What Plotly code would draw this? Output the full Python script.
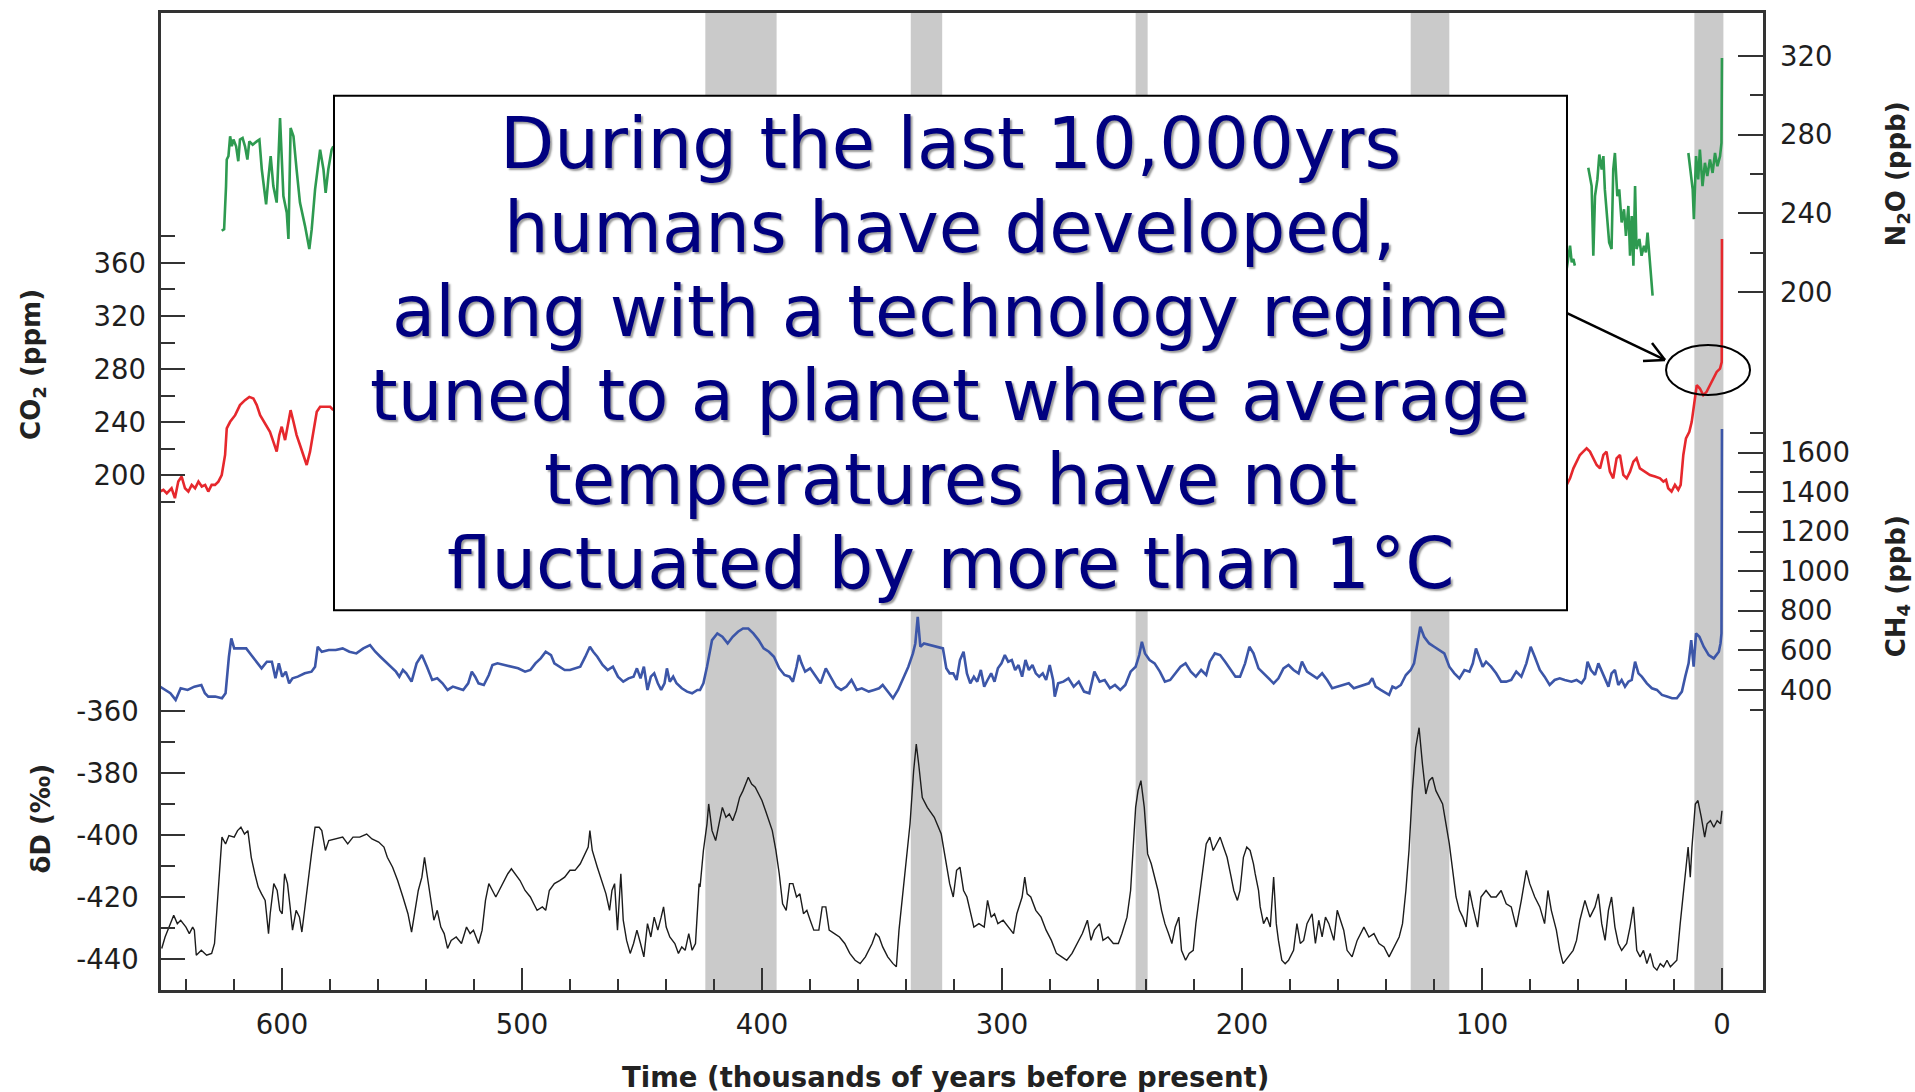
import plotly.graph_objects as go

# ---------------- data ----------------
# deuterium record (per mil) vs time (ka before present)
DD_TIME = [650.1, 648.7, 646.5, 645.1, 643.6, 642.2, 640.0, 638.6, 637.2, 636.5, 635.7, 633.6, 631.4, 629.3, 628.1,
           627.1, 625.7, 625.0, 623.5, 622.1, 619.9, 618.5, 617.1, 615.6, 614.2, 612.8, 611.3, 609.9, 608.5, 607.0,
           605.6, 604.9, 603.4, 602.0, 600.9, 599.9, 598.9, 597.7, 596.6, 595.6, 594.1, 592.7, 591.7, 590.5, 589.1,
           587.7, 586.2, 584.5, 583.4, 581.9, 580.5, 577.6, 574.7, 572.6, 570.4, 567.6, 564.7, 562.5, 559.7, 557.5,
           556.1, 553.9, 551.8, 549.6, 547.5, 546.0, 544.6, 543.2, 541.7, 540.6, 539.6, 538.2, 536.7, 535.3, 533.8,
           532.4, 531.0, 529.5, 527.4, 525.2, 523.1, 521.6, 520.2, 518.1, 516.6, 515.2, 513.8, 512.3, 510.9, 509.5,
           508.0, 505.9, 504.4, 503.0, 500.8, 498.7, 496.5, 495.1, 493.7, 491.5, 490.1, 488.6, 486.5, 484.3, 482.2,
           480.0, 477.9, 475.7, 473.6, 472.4, 471.7, 470.7, 468.6, 466.4, 465.0, 463.5, 462.5, 461.4, 460.2, 458.8,
           457.8, 456.4, 454.9, 453.5, 452.1, 450.6, 449.2, 447.7, 446.3, 444.9, 443.4, 442.0, 441.0, 439.9, 438.4,
           436.3, 434.8, 433.4, 432.0, 430.5, 429.1, 427.7, 426.2,
           425.8, 424.4, 422.9, 422.2, 420.8, 419.3, 417.9, 416.5, 415.0, 413.6, 412.2, 410.7, 409.3, 407.9, 405.7,
           404.3, 402.8, 401.4, 400.0, 398.5, 397.1, 395.7, 394.2, 392.8, 391.4, 389.9, 388.5, 387.1, 385.6, 384.2,
           382.7, 381.3, 379.9, 378.4, 376.3, 374.9, 373.4, 372.0, 369.8, 367.7, 365.5, 363.4, 361.2, 359.1, 356.9,
           355.5, 354.1, 352.6, 351.2, 349.7, 347.6, 345.4, 344.0, 342.9, 341.1, 339.7, 338.3, 336.8, 335.7, 334.7,
           333.2, 331.1, 328.2, 325.3, 323.2, 321.8, 320.3, 318.9, 317.5, 316.0, 314.6, 313.2, 311.7, 309.6, 307.4,
           306.0, 304.5, 303.1, 301.7, 299.5, 297.4, 295.2, 293.8, 291.6, 290.5, 289.5, 288.0, 285.9, 283.7, 281.6,
           279.4, 277.3, 275.1, 273.0, 270.8, 268.7, 266.5, 264.4, 262.9, 261.5, 259.3, 257.9, 255.8, 253.6, 251.5,
           250.0, 247.9, 246.4, 245.3, 244.3, 243.3, 242.1, 240.7, 239.3, 237.8, 236.4, 235.0, 233.5, 232.1, 230.6,
           229.2, 227.8, 226.3, 225.2, 223.5, 222.0, 220.3, 219.2, 217.7, 216.3, 214.9, 213.4, 212.0, 210.6, 209.1,
           207.7, 206.2, 204.8, 203.4, 201.9,
           200.8, 199.4, 198.0, 196.6, 195.2, 194.5, 193.1, 192.4, 191.0, 189.6, 188.2, 186.8, 185.7, 184.8, 183.4,
           182.0, 180.6, 178.5, 177.1, 175.7, 174.3, 172.9, 170.8, 169.4, 168.0, 166.6, 165.2, 163.8, 161.7, 160.3,
           158.9, 157.6, 156.2, 154.1, 152.0, 149.2, 147.1, 145.0, 142.9, 140.8, 138.7, 136.6, 134.5, 133.1, 131.7,
           130.4, 129.0, 127.6, 126.2, 124.8, 123.4, 122.0, 120.6, 119.2, 117.8, 116.4, 115.0, 113.6, 112.2, 110.8,
           109.4, 108.0, 106.6, 105.2, 103.8, 101.8, 100.4, 98.3, 96.2, 94.1, 92.0, 89.9, 87.8, 85.7, 83.6,
           81.5, 80.1, 78.0, 75.9, 73.9, 72.5, 71.1, 69.0, 67.6, 66.2, 64.1, 62.0, 60.6, 59.2, 57.1,
           55.0, 52.9, 51.5, 50.1, 48.7, 47.3, 46.0, 44.6, 43.2, 41.8, 39.7, 38.3, 36.9, 35.5, 34.1,
           32.7, 31.3, 29.9, 28.5, 27.1, 25.7, 24.3, 22.9, 21.5, 20.1, 18.8, 17.4, 16.0, 15.0, 14.1,
           13.2, 12.5, 11.1, 10.0, 8.6, 7.2, 6.2, 4.8, 3.4, 2.0, 0.6, 0.0]
DD_VALUE = [-436.6, -432.9, -428.6, -425.9, -428.6, -427.5, -429.7, -431.8, -429.7, -430.7, -438.8, -437.2, -438.8, -438.2, -435.0,
            -423.2, -407.2, -400.7, -402.9, -400.2, -400.7, -398.6, -397.5, -399.7, -398.6, -407.2, -412.5, -416.8, -419.0, -421.1,
            -431.8, -425.4, -415.7, -417.9, -424.3, -425.4, -412.5, -415.7, -423.2, -430.7, -424.3, -426.5, -431.3, -423.2, -415.7,
            -406.1, -397.5, -397.5, -398.6, -405.0, -401.8, -401.3, -400.7, -402.9, -400.7, -400.7, -399.7, -401.3, -402.3, -403.9,
            -407.2, -410.4, -414.7, -420.0, -425.4, -431.3, -424.3, -417.9, -413.6, -407.2, -412.5, -420.0, -427.5, -424.3, -429.7,
            -431.8, -436.6, -434.0, -432.9, -435.0, -429.7, -431.8, -430.7, -435.0, -430.7, -421.1, -415.7, -417.9, -420.0, -417.9,
            -415.7, -412.5, -410.9, -412.5, -414.7, -417.9, -420.0, -422.2, -424.3, -423.2, -424.3, -417.9, -415.7, -414.7, -413.6,
            -411.4, -411.4, -409.3, -406.1, -403.9, -398.6, -405.0, -410.4, -415.7, -419.0, -424.3, -417.9, -415.7, -430.7, -412.5,
            -427.5, -434.0, -438.2, -435.0, -430.7, -435.0, -439.3, -428.6, -432.9, -426.5, -430.7, -426.5, -423.2, -429.7, -432.9,
            -435.0, -438.2, -436.1, -437.2, -431.8, -437.2, -435.0, -415.7,
            -416.8, -405.0, -396.4, -390.0, -398.6, -401.8, -396.4, -391.1, -394.3, -393.2, -395.4, -392.2, -387.9, -385.7, -381.4,
            -383.6, -384.6, -386.8, -388.9, -392.2, -395.4, -398.6, -405.0, -412.5, -422.2, -424.3, -415.7, -415.7, -420.0, -419.0,
            -425.4, -424.3, -427.5, -430.7, -430.7, -423.2, -423.2, -430.7, -431.8, -432.9, -435.0, -438.2, -440.4, -441.5, -439.3,
            -437.2, -435.0, -431.8, -432.9, -436.1, -439.3, -441.5, -442.5, -430.7, -417.9, -407.2, -396.4, -379.3, -370.7, -377.1,
            -387.9, -391.1, -394.3, -399.7, -409.3, -415.7, -420.0, -411.4, -410.4, -417.9, -420.0, -424.3, -429.7, -428.6, -429.7,
            -421.1, -426.5, -425.4, -428.6, -427.5, -429.7, -431.8, -425.4, -420.0, -413.6, -419.0, -420.0, -424.3, -426.5, -430.7,
            -434.0, -438.2, -439.3, -440.4, -438.2, -435.0, -431.8, -427.5, -434.0, -430.7, -428.6, -434.0, -432.9, -435.0, -435.0,
            -431.8, -426.5, -417.9, -405.0, -391.1, -385.7, -382.5, -391.1, -406.1, -409.3, -413.6, -417.9, -424.3, -428.6, -431.8,
            -435.0, -429.7, -426.5, -437.2, -440.4, -438.2, -437.2, -428.6, -420.0, -411.4, -402.9, -400.7, -405.0, -402.9, -400.7,
            -403.9, -407.2, -412.5, -417.9, -421.1,
            -417.9, -407.2, -403.9, -405.0, -409.3, -412.5, -417.9, -423.2, -428.6, -426.5, -429.7, -413.6, -428.6, -434.0, -440.4,
            -441.5, -440.4, -437.2, -428.6, -435.0, -434.0, -428.6, -425.4, -435.0, -427.5, -432.9, -426.5, -428.6, -434.0, -424.3,
            -427.5, -430.7, -437.2, -439.3, -434.0, -429.7, -432.9, -431.8, -435.0, -436.1, -439.3, -436.1, -432.9, -428.6, -417.9,
            -405.0, -385.7, -371.8, -365.4, -377.1, -386.8, -382.5, -381.4, -385.7, -387.9, -390.0, -396.4, -402.9, -411.4, -420.0,
            -424.3, -426.5, -429.7, -417.9, -423.2, -429.7, -420.0, -417.9, -420.0, -420.0, -417.9, -422.2, -423.2, -429.7, -421.1,
            -411.4, -415.7, -420.0, -423.2, -428.6, -417.9, -424.3, -430.7, -437.2, -441.5, -439.3, -437.2, -434.0, -427.5, -421.1,
            -426.5, -423.2, -419.0, -428.6, -434.0, -424.3, -420.0, -429.7, -435.0, -437.2, -435.0, -429.7, -423.2, -437.2, -439.3,
            -437.2, -441.5, -438.2, -442.5, -443.6, -441.5, -442.5, -440.4, -442.5, -441.5, -440.4, -428.6, -417.9, -410.4, -403.9,
            -413.6, -403.9, -390.0, -388.9, -394.3, -400.7, -396.4, -395.4, -397.5, -395.4, -396.4, -392.2]

# methane (ppb)
CH4_TIME = [650.8, 648.7, 646.5, 644.3, 642.2, 639.3, 636.5, 633.6, 632.1, 630.7, 627.8, 625.0, 623.5, 622.1, 621.1,
            619.9, 617.8, 614.9, 612.8, 610.6, 608.5, 606.3, 604.2, 602.7, 601.3, 599.9, 598.4, 597.0, 595.6, 593.4,
            590.5, 587.7, 586.2, 585.1, 583.4, 580.5, 577.6, 574.7, 571.9, 569.0, 566.1, 563.3, 561.1, 559.0, 556.8,
            554.7, 552.5, 551.1, 549.6, 548.2, 546.0, 543.9, 541.7, 539.6, 537.4, 535.3, 533.1, 531.0, 528.8, 526.7,
            524.5, 522.4, 520.9, 519.5, 518.1, 515.9, 513.8, 512.3, 510.2, 507.3, 504.4, 501.6, 498.7, 496.5, 494.4,
            492.2, 490.1, 487.9, 486.5, 484.3, 482.2, 480.0, 477.9, 475.7, 473.6, 471.7, 470.3, 468.6, 466.4, 464.3,
            462.1, 460.0, 457.8, 455.6, 453.5, 452.1, 450.6, 449.2, 447.7, 446.3, 444.9, 443.4, 442.0, 440.6, 439.6,
            438.4, 437.0, 435.6, 433.4, 431.2, 429.1, 426.9,
            425.8, 424.4, 422.9, 420.8, 418.6, 416.5, 414.3, 412.2, 410.0, 407.9, 405.7, 403.6, 401.4, 399.3, 397.1,
            395.0, 392.8, 390.6, 388.5, 387.1, 385.6, 384.6, 383.5, 382.0, 379.9, 377.7, 375.6, 373.4, 371.3, 369.1,
            367.0, 364.8, 362.7, 360.5, 358.4, 355.5, 353.3, 351.2, 349.7, 347.6, 345.4, 343.3, 341.1, 339.0, 337.1,
            336.1, 335.1, 334.0, 332.5, 329.7, 326.8, 324.6, 323.2, 321.8, 320.3, 318.9, 317.5, 316.0, 314.6, 313.2,
            311.7, 310.3, 308.8, 307.4, 306.0, 304.5, 303.1, 301.7, 300.2, 298.8, 297.4, 295.9, 294.5, 293.1, 291.6,
            290.2, 288.8, 287.3, 285.9, 284.5, 283.0, 281.6, 280.1, 278.7, 278.0, 276.6, 274.4, 272.3, 270.1, 268.0,
            265.8, 263.6, 261.5, 259.3, 257.2, 255.0, 252.9, 250.7, 248.6, 246.4, 244.3, 242.8, 241.7, 240.4, 238.5,
            236.4, 234.2, 232.1, 229.9, 227.8, 225.6, 223.5, 221.3, 219.2, 217.0, 214.9, 213.4, 211.3, 209.1, 207.0,
            204.8, 202.7,
            200.8, 198.7, 196.9, 195.2, 193.1, 191.0, 188.9, 186.8, 184.8, 182.7, 180.6, 178.5, 176.4, 175.0, 172.9,
            170.8, 168.7, 166.6, 164.5, 162.4, 160.3, 157.6, 155.5, 153.4, 151.3, 149.2, 147.1, 145.7, 144.3, 142.2,
            140.1, 138.7, 137.3, 135.9, 133.8, 131.7, 129.7, 128.3, 126.9, 125.7, 124.1, 122.0, 119.9, 117.8, 115.7,
            113.6, 111.5, 109.4, 107.3, 105.2, 103.8, 102.5, 101.1, 99.7, 98.3, 96.2, 94.1, 92.0, 89.9, 87.8,
            85.7, 83.6, 81.5, 79.7, 78.0, 75.9, 73.9, 71.8, 69.7, 67.6, 65.5, 62.7, 60.6, 58.5, 57.1,
            56.0, 54.6, 52.9, 51.5, 50.1, 48.7, 47.3, 46.0, 44.6, 43.2, 41.8, 40.4, 39.0, 37.6, 36.2,
            34.8, 33.4, 31.3, 29.2, 27.1, 25.0, 22.9, 20.8, 18.8, 16.7, 15.3, 13.9, 12.8, 11.8, 10.8,
            9.4, 7.6, 5.5, 3.4, 1.3, 0.6, 0.2, 0.0]
CH4_VALUE = [416.7, 399.9, 383.1, 349.5, 408.3, 399.9, 416.7, 425.1, 383.1, 366.3, 366.3, 357.9, 383.1, 568.0, 660.5,
             610.0, 610.0, 610.0, 576.4, 542.8, 509.2, 542.8, 542.8, 458.7, 534.4, 467.1, 492.4, 433.5, 458.7, 467.1,
             483.9, 492.4, 517.6, 618.4, 593.2, 601.6, 601.6, 610.0, 593.2, 584.8, 610.0, 626.8, 593.2, 568.0, 542.8,
             517.6, 492.4, 467.1, 500.8, 483.9, 441.9, 534.4, 576.4, 517.6, 450.3, 458.7, 433.5, 399.9, 416.7, 408.3,
             399.9, 433.5, 492.4, 467.1, 433.5, 425.1, 475.5, 526.0, 534.4, 526.0, 517.6, 509.2, 492.4, 500.8, 534.4,
             559.6, 593.2, 576.4, 534.4, 517.6, 500.8, 500.8, 509.2, 517.6, 568.0, 618.4, 593.2, 568.0, 526.0, 500.8,
             517.6, 467.1, 441.9, 458.7, 467.1, 509.2, 458.7, 517.6, 399.9, 467.1, 483.9, 433.5, 399.9, 433.5, 509.2,
             441.9, 467.1, 433.5, 408.3, 391.5, 383.1, 399.9,
             399.9, 433.5, 517.6, 652.0, 685.7, 668.9, 635.2, 668.9, 694.1, 710.9, 710.9, 685.7, 652.0, 610.0, 593.2,
             568.0, 509.2, 475.5, 467.1, 441.9, 517.6, 576.4, 534.4, 492.4, 509.2, 467.1, 433.5, 509.2, 467.1, 416.7,
             399.9, 416.7, 450.3, 399.9, 408.3, 391.5, 399.9, 408.3, 425.1, 391.5, 357.9, 399.9, 458.7, 517.6, 584.8,
             635.2, 769.7, 618.4, 635.2, 626.8, 618.4, 610.0, 509.2, 483.9, 483.9, 450.3, 551.2, 593.2, 483.9, 433.5,
             467.1, 441.9, 500.8, 416.7, 450.3, 483.9, 441.9, 509.2, 534.4, 576.4, 542.8, 551.2, 500.8, 526.0, 467.1,
             551.2, 500.8, 526.0, 483.9, 467.1, 483.9, 450.3, 526.0, 450.3, 366.3, 433.5, 441.9, 458.7, 416.7, 441.9,
             391.5, 383.1, 492.4, 441.9, 450.3, 408.3, 425.1, 399.9, 425.1, 492.4, 517.6, 576.4, 643.6, 584.8, 551.2,
             534.4, 492.4, 441.9, 450.3, 483.9, 517.6, 534.4, 492.4, 467.1, 500.8, 475.5, 542.8, 584.8, 576.4, 542.8,
             500.8, 467.1,
             467.1, 534.4, 618.4, 584.8, 509.2, 483.9, 458.7, 433.5, 458.7, 509.2, 526.0, 500.8, 483.9, 542.8, 492.4,
             475.5, 458.7, 483.9, 450.3, 408.3, 416.7, 425.1, 433.5, 408.3, 416.7, 425.1, 433.5, 458.7, 416.7, 399.9,
             383.1, 374.7, 416.7, 408.3, 425.1, 475.5, 500.8, 534.4, 635.2, 719.3, 668.9, 635.2, 618.4, 601.6, 584.8,
             517.6, 483.9, 458.7, 500.8, 492.4, 534.4, 610.0, 568.0, 517.6, 542.8, 517.6, 483.9, 441.9, 441.9, 450.3,
             492.4, 467.1, 534.4, 618.4, 568.0, 500.8, 467.1, 425.1, 450.3, 458.7, 450.3, 441.9, 450.3, 433.5, 458.7,
             542.8, 500.8, 475.5, 534.4, 492.4, 450.3, 416.7, 483.9, 500.8, 425.1, 450.3, 416.7, 441.9, 450.3, 542.8,
             483.9, 467.1, 433.5, 408.3, 399.9, 374.7, 366.3, 357.9, 357.9, 391.5, 467.1, 534.4, 652.0, 517.6, 685.7,
             668.9, 618.4, 576.4, 559.6, 593.2, 635.2, 686.0, 1720.0]

# carbon dioxide (ppm); None marks the part hidden behind the text box
CO2_TIME = [650.8, 649.4, 648.0, 646.0, 644.6, 643.2, 641.8, 640.4, 639.0, 637.6, 636.2, 634.8, 633.4, 632.0, 630.7,
            629.3, 627.9, 626.5, 625.1, 623.7, 623.0, 621.6, 619.5, 617.5, 615.4, 613.6, 611.9, 610.5, 609.1, 607.0,
            605.0, 603.6, 602.2, 601.1, 600.1, 598.7, 597.3, 596.4, 595.2, 593.9, 592.5, 590.8, 589.7, 588.3, 586.9,
            585.5, 584.1, 582.0, 579.9, 578.6, None,
            64.7, 63.3, 61.9, 60.6, 59.2, 57.8, 56.4, 55.0, 53.6, 52.2, 50.8, 49.4, 48.1, 46.7, 45.3,
            43.9, 42.5, 41.1, 39.7, 38.3, 36.9, 35.6, 34.2, 32.1, 30.0, 27.9, 25.8, 24.4, 23.3, 22.4,
            21.0, 19.6, 18.2, 17.2, 16.1, 15.0, 13.6, 12.6, 11.9, 11.2, 10.5, 9.2, 7.8, 6.4, 5.0,
            3.6, 2.2, 0.8, 0.1, 0.0]
CO2_VALUE = [187.6, 188.9, 186.3, 190.1, 182.6, 195.1, 198.9, 190.1, 187.6, 192.6, 190.1, 195.1, 191.4, 192.6, 187.6,
             192.6, 192.6, 195.1, 200.1, 215.2, 235.2, 240.2, 245.2, 252.8, 256.5, 259.0, 257.8, 252.8, 245.2, 239.0,
             232.7, 225.2, 217.7, 230.2, 236.5, 226.4, 240.2, 249.0, 240.2, 230.2, 222.7, 212.7, 207.6, 217.7, 232.7,
             247.7, 251.5, 251.5, 251.5, 249.0, None,
             192.6, 197.6, 205.1, 210.2, 215.2, 217.7, 220.2, 217.7, 212.7, 207.6, 205.1, 215.2, 217.7, 202.6, 197.6,
             212.7, 215.2, 200.1, 197.6, 202.6, 210.2, 212.7, 205.1, 202.6, 200.1, 198.9, 197.6, 195.1, 196.4, 190.1,
             187.6, 192.6, 188.9, 192.6, 215.2, 227.7, 232.7, 240.2, 250.2, 260.3, 267.8, 265.3, 260.3, 262.8, 267.8,
             272.8, 277.8, 280.3, 285.3, 378.1]

# nitrous oxide (ppb); None marks gaps in the record
N2O_TIME = [625.1, 624.1, 623.3, 623.0, 622.3, 621.6, 620.9, 620.2, 619.1, 618.2, 617.5, 616.4, 615.4, 614.4, 613.6,
            612.2, 610.5, 609.4, 608.4, 606.6, 605.7, 604.7, 603.6, 602.2, 600.8, 599.4, 598.0, 597.3, 596.4, 595.2,
            593.9, 592.5, 590.4, 588.6, 587.6, 586.2, 584.1, 582.7, 581.8, 580.7, 579.3, 578.6, None,
            64.7, 64.0, 63.3, 62.6, 61.9, 61.3, None,
            55.7, 54.3, 53.6, 52.9, 51.9, 51.1, 50.1, 49.4, 48.8, 48.1, 47.0, 46.0, 45.3, 44.6, 43.6,
            42.8, 41.8, 40.8, 40.0, 39.0, 38.3, 37.6, 36.9, 36.2, 35.6, 34.4, 33.5, 32.5, 31.7, 31.0,
            30.0, 28.9, None,
            14.0, 13.1, 12.2, 11.7, 10.8, 9.9, 9.2, 8.1, 7.1, 6.1, 5.0, 3.9, 2.9, 1.9, 0.8, 0.2, 0.0]
N2O_VALUE = [231.2, 232.0, 253.9, 267.4, 269.1, 279.2, 274.1, 277.5, 274.1, 266.5, 277.5, 278.3, 274.1, 267.4, 276.6,
             274.9, 276.6, 277.5, 262.3, 244.6, 257.3, 269.1, 253.9, 245.5, 288.4, 248.8, 240.4, 227.0, 283.4, 279.2,
             262.3, 245.5, 233.7, 221.9, 232.0, 252.2, 272.4, 262.3, 250.5, 262.3, 272.4, 274.1, None,
             211.8, 216.9, 223.6, 215.2, 216.9, 213.5, None,
             263.2, 253.9, 218.5, 248.8, 257.3, 269.9, 262.3, 269.1, 252.2, 240.4, 225.3, 221.9, 262.3, 270.7, 248.8,
             252.2, 235.4, 242.1, 228.6, 243.8, 218.5, 238.7, 213.5, 253.9, 221.9, 227.0, 218.5, 223.6, 220.2, 230.3,
             215.2, 198.3, None,
             270.7, 262.3, 252.2, 237.1, 269.1, 257.3, 272.4, 253.9, 265.7, 259.0, 267.4, 260.6, 270.7, 264.0, 269.1,
             275.8, 319.0]

# interglacial periods (shaded), ka
BAND_START = [423.6, 338.0, 244.3, 129.7, 11.5]
BAND_END = [393.9, 324.9, 239.3, 113.6, -0.6]

# tick values and labels
X_MAJOR = [0, 100, 200, 300, 400, 500, 600]
X_MINOR = [20, 40, 60, 80, 120, 140, 160, 180, 220, 240, 260, 280, 320, 340, 360, 380,
           420, 440, 460, 480, 520, 540, 560, 580, 620, 640]
DD_MAJOR = [-440, -420, -400, -380, -360]
DD_LABELS = ["-440", "-420", "-400", "-380", "-360"]
DD_MINOR = [-430, -410, -390, -370]
CO2_MAJOR = [200, 240, 280, 320, 360]
CO2_MINOR = [180, 220, 260, 300, 340, 380]
N2O_MAJOR = [200, 240, 280, 320]
N2O_MINOR = [220, 260, 300]
CH4_MAJOR = [400, 600, 800, 1000, 1200, 1400, 1600]
CH4_MINOR = [300, 500, 700, 900, 1100, 1300, 1500, 1700]

TEXT_LINES = ["During the last 10,000yrs",
              "humans have developed,",
              "along with a technology regime",
              "tuned to a planet where average",
              "temperatures have not",
              "fluctuated by more than 1°C"]

# ---------------- figure ----------------
AX = '#333333'
FONT = 'DejaVu Sans'
TICKFONT = dict(family=FONT, size=27.5, color='#1e1e1e')

fig = go.Figure()
fig.add_trace(go.Scatter(x=DD_TIME, y=DD_VALUE, mode='lines', yaxis='y',
                         line=dict(color='#1c1c1c', width=1.4), hoverinfo='skip', showlegend=False))
fig.add_trace(go.Scatter(x=CH4_TIME, y=CH4_VALUE, mode='lines', yaxis='y4',
                         line=dict(color='#3c56a8', width=2.6), hoverinfo='skip', showlegend=False))
fig.add_trace(go.Scatter(x=CO2_TIME, y=CO2_VALUE, mode='lines', yaxis='y2', connectgaps=False,
                         line=dict(color='#e6282d', width=2.6), hoverinfo='skip', showlegend=False))
fig.add_trace(go.Scatter(x=N2O_TIME, y=N2O_VALUE, mode='lines', yaxis='y3', connectgaps=False,
                         line=dict(color='#2e9a50', width=2.6), hoverinfo='skip', showlegend=False))


def minor(vals, length):
    return dict(tickmode='array', tickvals=vals, ticks='inside', ticklen=length,
                tickwidth=2, tickcolor=AX)


base = dict(showgrid=False, zeroline=False, ticks='inside', tickcolor=AX, tickwidth=2,
            tickfont=TICKFONT, tickmode='array', fixedrange=True)

fig.update_layout(
    width=1915, height=1092, autosize=False,
    margin=dict(l=161, r=152, t=10, b=102, pad=0),
    paper_bgcolor='white', plot_bgcolor='white',
    showlegend=False,
    xaxis=dict(base, range=[650.4, -17.1], tickvals=X_MAJOR, ticklen=22,
               minor=minor(X_MINOR, 11), showline=True, linecolor=AX, linewidth=2.5,
               mirror=True, ticklabelstandoff=8),
    yaxis=dict(base, range=[-450, -134.9], tickvals=DD_MAJOR, ticktext=DD_LABELS, ticklen=24,
               minor=minor(DD_MINOR, 14), showline=True, linecolor=AX, linewidth=2.5,
               mirror=True, ticklabelstandoff=14),
    yaxis2=dict(base, overlaying='y', side='left', range=[-188.3, 548.5],
                tickvals=CO2_MAJOR, ticklen=24, minor=minor(CO2_MINOR, 14),
                showline=False, ticklabelstandoff=14),
    yaxis3=dict(base, overlaying='y', side='right', range=[-154.4, 341.8],
                tickvals=N2O_MAJOR, ticklen=25, minor=minor(N2O_MINOR, 13),
                showline=False, ticklabelstandoff=16),
    yaxis4=dict(base, overlaying='y', side='right', range=[-1117.6, 3823.6],
                tickvals=CH4_MAJOR, ticklen=25, minor=minor(CH4_MINOR, 13),
                showline=False, ticklabelstandoff=16),
)

shapes = []
for s, e in zip(BAND_START, BAND_END):
    shapes.append(dict(type='rect', xref='x', yref='paper', x0=s, x1=e, y0=0, y1=1,
                       fillcolor='#cacaca', line=dict(width=0), layer='below'))
# text box
shapes.append(dict(type='rect', xref='paper', yref='paper', x0=0.10799, x1=0.87765,
                   y0=0.38878, y1=0.91531, fillcolor='white',
                   line=dict(color='black', width=2), layer='above'))
# ellipse around the recent rise
shapes.append(dict(type='circle', xref='x', yref='y2', x0=23.3, x1=-11.7, y0=260.5, y1=298.1,
                   line=dict(color='black', width=2), layer='above'))
# arrow from the box to the ellipse (shaft and open head)
ARROW = dict(color='black', width=2.5)
shapes += [
    dict(type='line', xref='paper', yref='paper', x0=0.87765, y0=0.69286, x1=0.93883, y1=0.64490,
         line=ARROW, layer='above'),
    dict(type='line', xref='paper', yref='paper', x0=0.93071, y0=0.66224, x1=0.93883, y1=0.64490,
         line=ARROW, layer='above'),
    dict(type='line', xref='paper', yref='paper', x0=0.92509, y0=0.64388, x1=0.93883, y1=0.64490,
         line=ARROW, layer='above'),
]
fig.update_layout(shapes=shapes)

annotations = []
line_y = [0.86614, 0.78012, 0.69410, 0.60808, 0.52206, 0.43604]
for txt, yy in zip(TEXT_LINES, line_y):
    annotations.append(dict(text=txt, xref='paper', yref='paper', x=0.49251, y=yy,
                            xanchor='center', yanchor='middle', showarrow=False,
                            font=dict(family=FONT, size=70.5, color='#000080',
                                      shadow='2px 2px 2px rgba(0,0,0,0.4)')))
title_font = dict(family=FONT, size=26, color='#222222')
annotations += [
    dict(text='<b>Time (thousands of years before present)</b>', xref='paper', yref='paper',
         x=0.4900, y=-0.0888, showarrow=False, xanchor='center', yanchor='middle',
         font=dict(family=FONT, size=27.5, color='#222222')),
    dict(text='<b>CO<sub>2</sub> (ppm)</b>', xref='paper', yref='paper', x=-0.0799, y=0.6398,
         textangle=-90, showarrow=False, xanchor='center', yanchor='middle', font=title_font),
    dict(text='<b>δD (‰)</b>', xref='paper', yref='paper', x=-0.0749, y=0.1755,
         textangle=-90, showarrow=False, xanchor='center', yanchor='middle', font=title_font),
    dict(text='<b>N<sub>2</sub>O (ppb)</b>', xref='paper', yref='paper', x=1.0837, y=0.8347,
         textangle=-90, showarrow=False, xanchor='center', yanchor='middle', font=title_font),
    dict(text='<b>CH<sub>4</sub> (ppb)</b>', xref='paper', yref='paper', x=1.0837, y=0.4133,
         textangle=-90, showarrow=False, xanchor='center', yanchor='middle', font=title_font),
]
fig.update_layout(annotations=annotations)

fig.write_html("out.html")
